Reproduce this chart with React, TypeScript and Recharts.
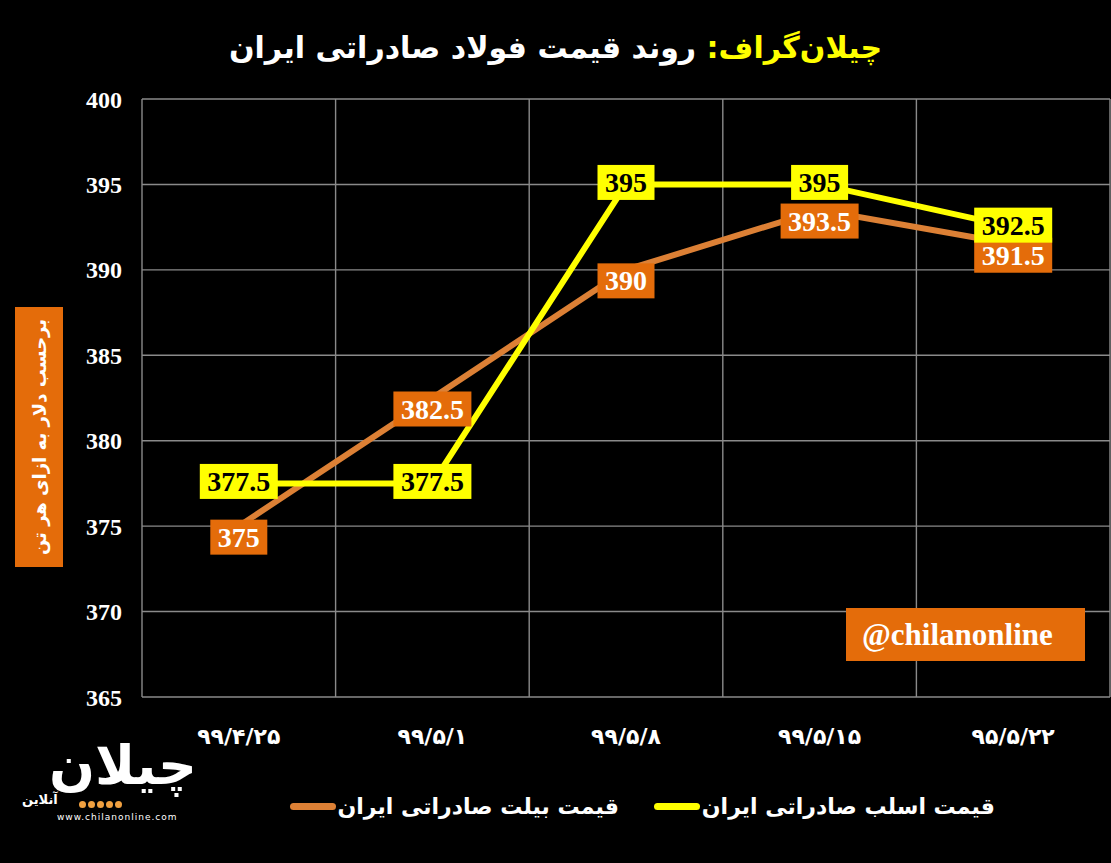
import { LineChart, Line, XAxis, YAxis, CartesianGrid, LabelList } from "recharts";

const DATES = ["۹۹/۴/۲۵", "۹۹/۵/۱", "۹۹/۵/۸", "۹۹/۵/۱۵", "۹۵/۵/۲۲"];
const BILLET = [375, 382.5, 390, 393.5, 391.5];
const SLAB = [377.5, 377.5, 395, 395, 392.5];
const Y_TICKS = [365, 370, 375, 380, 385, 390, 395, 400];

const BILLET_NAME = "قیمت بیلت صادراتی ایران";
const SLAB_NAME = "قیمت اسلب صادراتی ایران";
const TITLE_BRAND = "چیلان‌گراف:";
const TITLE_TEXT = "روند قیمت فولاد صادراتی ایران";
const Y_LABEL = "برحسب دلار به ازای هر تن";
const HANDLE = "@chilanonline";

const C = {
  bg: "#000000",
  grid: "#8a8a8a",
  text: "#ffffff",
  billetLine: "#dc8035",
  billetBox: "#e46c0a",
  slab: "#ffff00",
};

const SERIF = "'Liberation Serif', 'DejaVu Serif', serif";
const ARABIC = "'DejaVu Sans', sans-serif";

const data = DATES.map((date, i) => ({ pos: i + 0.5, date, billet: BILLET[i], slab: SLAB[i] }));

// rough width of a number label in Liberation Serif Bold
function numWidth(s: string, size: number) {
  let w = 0;
  for (const ch of s) w += ch === "." ? 0.25 : 0.5;
  return w * size;
}

function boxLabel(fill: string, color: string, dy: number) {
  return (props: any) => {
    const { x, y, value } = props;
    if (x == null || y == null) return null;
    const text = String(value);
    const fs = 28;
    const w = numWidth(text, fs) + 15;
    const h = 35;
    const cy = y + dy;
    return (
      <g>
        <rect x={x - w / 2} y={cy - h / 2} width={w} height={h} fill={fill} />
        <text
          x={x}
          y={cy}
          dy="0.34em"
          textAnchor="middle"
          fill={color}
          style={{ fontFamily: SERIF, fontWeight: 700, fontSize: fs }}
        >
          {text}
        </text>
      </g>
    );
  };
}

function LegendItem({ name, color }: { name: string; color: string }) {
  return (
    <div style={{ display: "flex", alignItems: "center", gap: 2 }}>
      <span style={{ color: C.text, fontFamily: ARABIC, fontWeight: 700, fontSize: 22 }}>{name}</span>
      <span style={{ width: 46, height: 7, borderRadius: 4, background: color, display: "inline-block" }} />
    </div>
  );
}

export default function App() {
  return (
    <div
      style={{
        position: "fixed",
        left: 0,
        top: 0,
        width: 1111,
        height: 863,
        background: C.bg,
        overflow: "hidden",
      }}
    >
      <div
        dir="rtl"
        style={{
          position: "absolute",
          top: 30,
          left: 0,
          width: 1111,
          textAlign: "center",
          fontFamily: ARABIC,
          fontWeight: 700,
          fontSize: 30,
          color: C.text,
        }}
      >
        <span style={{ color: C.slab }}>{TITLE_BRAND}</span> {TITLE_TEXT}
      </div>

      <LineChart
        width={1111}
        height={863}
        data={data}
        margin={{ top: 99, right: 1, bottom: 136, left: 82 }}
      >
        <CartesianGrid
          stroke={C.grid}
          strokeWidth={1.4}
          verticalCoordinatesGenerator={({ offset }: any) =>
            [...DATES.map((_, i) => i), DATES.length].map(
              (i) => offset.left + (offset.width * i) / DATES.length
            )
          }
        />
        <XAxis
          type="number"
          dataKey="pos"
          domain={[0, DATES.length]}
          ticks={DATES.map((_, i) => i + 0.5)}
          tickFormatter={(v: number) => DATES[Math.floor(v)]}
          interval={0}
          axisLine={false}
          tickLine={false}
          tickSize={0}
          tickMargin={31}
          height={30}
          tick={{ fill: C.text, fontSize: 22, fontWeight: 700, fontFamily: ARABIC }}
        />
        <YAxis
          domain={[365, 400]}
          ticks={Y_TICKS}
          interval={0}
          width={60}
          axisLine={false}
          tickLine={false}
          tickSize={0}
          tickMargin={20}
          tick={{ fill: C.text, fontSize: 24, fontWeight: 700, fontFamily: SERIF }}
        />
        <Line
          type="linear"
          dataKey="billet"
          name={BILLET_NAME}
          stroke={C.billetLine}
          strokeWidth={6}
          dot={false}
          isAnimationActive={false}
        >
          <LabelList dataKey="billet" content={boxLabel(C.billetBox, C.text, 11)} />
        </Line>
        <Line
          type="linear"
          dataKey="slab"
          name={SLAB_NAME}
          stroke={C.slab}
          strokeWidth={6}
          dot={false}
          isAnimationActive={false}
        >
          <LabelList dataKey="slab" content={boxLabel(C.slab, "#000000", -2)} />
        </Line>
      </LineChart>

      {/* y axis unit */}
      <div
        style={{
          position: "absolute",
          left: 15,
          top: 307,
          width: 48,
          height: 260,
          background: C.billetBox,
        }}
      >
        <div
          dir="rtl"
          style={{
            position: "absolute",
            left: (48 - 260) / 2,
            top: (260 - 48) / 2,
            width: 260,
            height: 48,
            transform: "rotate(-90deg)",
            display: "flex",
            alignItems: "center",
            justifyContent: "center",
            whiteSpace: "nowrap",
            color: C.text,
            fontFamily: ARABIC,
            fontWeight: 700,
            fontSize: 18,
          }}
        >
          {Y_LABEL}
        </div>
      </div>

      {/* handle */}
      <div
        style={{
          position: "absolute",
          left: 846,
          top: 608,
          width: 239,
          height: 53,
          background: C.billetBox,
          color: C.text,
          fontFamily: SERIF,
          fontWeight: 700,
          fontSize: 31,
          lineHeight: "53px",
          paddingLeft: 16,
          boxSizing: "border-box",
        }}
      >
        {HANDLE}
      </div>

      {/* legend */}
      <div
        dir="rtl"
        style={{
          position: "absolute",
          right: 116,
          top: 794,
          display: "flex",
          gap: 35,
          alignItems: "center",
        }}
      >
        <LegendItem name={SLAB_NAME} color={C.slab} />
        <LegendItem name={BILLET_NAME} color={C.billetLine} />
      </div>

      {/* logo */}
      <div style={{ position: "absolute", left: 22, top: 736, width: 175, height: 92 }}>
        <div
          dir="rtl"
          style={{
            position: "absolute",
            right: 0,
            top: 0,
            fontFamily: ARABIC,
            fontWeight: 700,
            fontSize: 54,
            lineHeight: "60px",
            color: C.text,
          }}
        >
          چیلان
        </div>
        <div style={{ position: "absolute", left: 57, top: 65, display: "flex", gap: 2 }}>
          {[0, 1, 2, 3, 4].map((i) => (
            <span key={i} style={{ width: 7, height: 7, borderRadius: 4, background: "#f0a040" }} />
          ))}
        </div>
        <div
          dir="rtl"
          style={{
            position: "absolute",
            left: 0,
            top: 56,
            fontFamily: ARABIC,
            fontWeight: 700,
            fontSize: 13,
            color: C.text,
          }}
        >
          آنلاین
        </div>
        <div
          style={{
            position: "absolute",
            left: 35,
            top: 76,
            fontFamily: ARABIC,
            fontSize: 9,
            letterSpacing: 1,
            color: C.text,
          }}
        >
          www.chilanonline.com
        </div>
      </div>
    </div>
  );
}
